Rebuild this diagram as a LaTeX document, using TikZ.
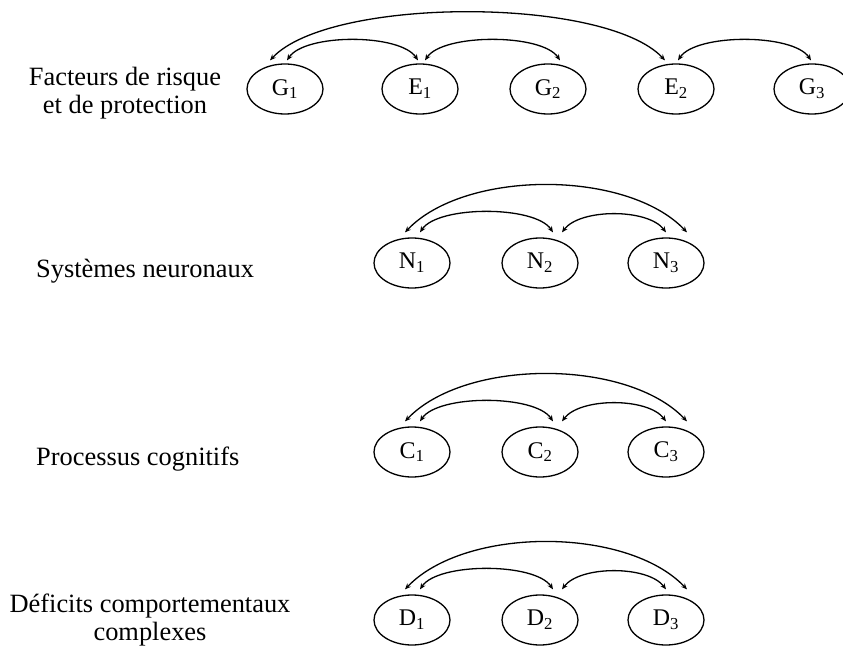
\documentclass[tikz,border=0pt]{standalone}
\usepackage{fontspec}
\setmainfont{Liberation Serif}
\usetikzlibrary{arrows.meta,shapes.geometric}
\begin{document}
\begin{tikzpicture}[x=1bp,y=-1bp,
  ell/.style={draw,ellipse,line width=1.3bp,minimum width=76bp,minimum height=50bp,inner sep=0pt,font=\fontsize{24}{26}\selectfont},
  lab/.style={font=\fontsize{26.5}{28}\selectfont,inner sep=0pt,align=center},
  arr/.style={line width=1.3bp,{Stealth[length=6bp,width=5bp]}-{Stealth[length=6bp,width=5bp]}},
  small/.style={arr},
  big/.style={arr}]
\path[use as bounding box,fill=white] (0,0) rectangle (843,648);

% labels
\node[lab,anchor=north] (l1) at (125,67) {Facteurs de risque\\et de protection};
\node[lab,anchor=base west] (l2) at (36,277) {Systèmes neuronaux};
\node[lab,anchor=base west] (l3) at (36,465) {Processus cognitifs};
\node[lab,anchor=north] (l4) at (150,594) {Déficits comportementaux\\complexes};

% row 1
\node[ell] (G1) at (285,89) {G\textsubscript{1}};
\node[ell] (E1) at (420,89) {E\textsubscript{1}};
\node[ell] (G2) at (548,89) {G\textsubscript{2}};
\node[ell] (E2) at (676,89) {E\textsubscript{2}};
\node[ell] (G3) at (812,89) {G\textsubscript{3}};

\coordinate (a1) at ([xshift=-15bp,yshift=3bp]G1.north);
\coordinate (a2) at ([xshift=2bp,yshift=3bp]G1.north);
\coordinate (a3) at ([xshift=-2bp,yshift=3bp]E1.north);
\coordinate (a4) at ([xshift=5bp,yshift=3bp]E1.north);
\coordinate (a5) at ([xshift=12bp,yshift=3bp]G2.north);
\coordinate (a6) at ([xshift=-11bp,yshift=3bp]E2.north);
\coordinate (a7) at ([xshift=2bp,yshift=3bp]E2.north);
\coordinate (a8) at ([xshift=-1bp,yshift=3bp]G3.north);

\draw[small] (a2) .. controls +(18,-27) and +(-18,-27) .. (a3);
\draw[small] (a4) .. controls +(18,-27) and +(-18,-27) .. (a5);
\draw[big] (a1) .. controls +(60,-64) and +(-60,-64) .. (a6);
\draw[small] (a7) .. controls +(18,-27) and +(-18,-27) .. (a8);

% rows 2-4
\foreach \L/\y in {N/263,C/452,D/620}{
  \node[ell] (\L1) at (412,\y) {\L\textsubscript{1}};
  \node[ell] (\L2) at (540,\y) {\L\textsubscript{2}};
  \node[ell] (\L3) at (666,\y) {\L\textsubscript{3}};
  \coordinate (\L b1) at ([xshift=-7bp,yshift=5bp]\L1.north);
  \coordinate (\L b2) at ([xshift=8bp,yshift=5bp]\L1.north);
  \coordinate (\L b3) at ([xshift=13bp,yshift=5bp]\L2.north);
  \coordinate (\L b4) at ([xshift=22bp,yshift=5bp]\L2.north);
  \coordinate (\L b5) at ([xshift=0bp,yshift=5bp]\L3.north);
  \coordinate (\L b6) at ([xshift=21bp,yshift=5bp]\L3.north);
  \draw[small] (\L b2) .. controls +(18,-27) and +(-18,-27) .. (\L b3);
  \draw[small] (\L b4) .. controls +(18,-24) and +(-18,-24) .. (\L b5);
  \draw[big] (\L b1) .. controls +(60,-63) and +(-60,-63) .. (\L b6);
}
\end{tikzpicture}
\end{document}
